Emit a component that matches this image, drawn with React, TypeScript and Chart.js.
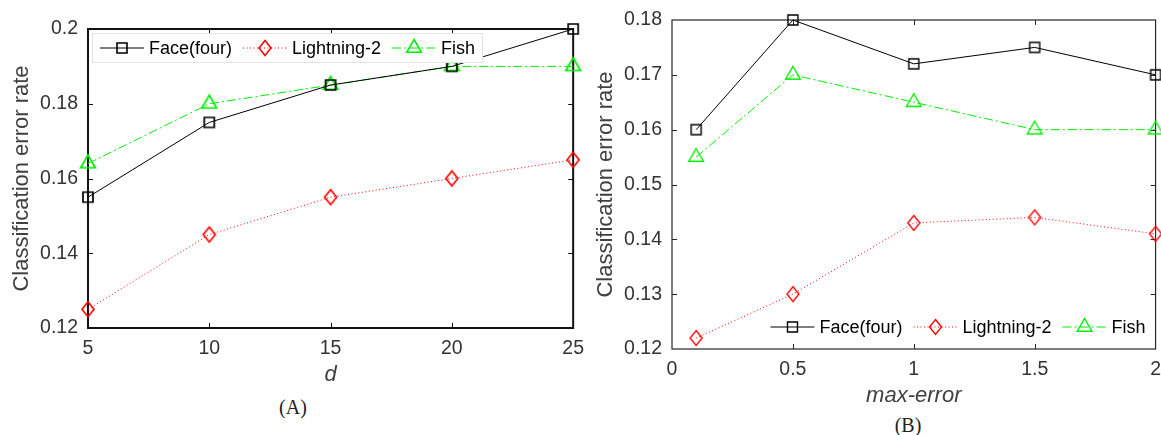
import React, { useEffect, useRef } from 'react';
import { Chart, registerables } from 'chart.js';

Chart.register(...registerables);

// ---------- data ----------
const seriesNames = ['Face(four)', 'Lightning-2', 'Fish'];

// Panel (A): x = d
const dValues = [5, 10, 15, 20, 25];
const faceA = [0.155, 0.175, 0.185, 0.19, 0.2];
const lightningA = [0.125, 0.145, 0.155, 0.16, 0.165];
const fishA = [0.164, 0.18, 0.185, 0.19, 0.19];
const xTicksA = [5, 10, 15, 20, 25];
const yTicksA = [0.12, 0.14, 0.16, 0.18, 0.2];

// Panel (B): x = max-error
const maxErrorValues = [0.1, 0.5, 1, 1.5, 2];
const faceB = [0.16, 0.18, 0.172, 0.175, 0.17];
const lightningB = [0.122, 0.13, 0.143, 0.144, 0.141];
const fishB = [0.155, 0.17, 0.165, 0.16, 0.16];
const xTicksB = [0, 0.5, 1, 1.5, 2];
const yTicksB = [0.12, 0.13, 0.14, 0.15, 0.16, 0.17, 0.18];

const yTitle = 'Classification error rate';

// ---------- styles ----------
const SANS = "'Liberation Sans', Arial, sans-serif";
const styles = [
  { kind: 'square', color: '#000000', dash: [] as number[] },
  { kind: 'diamond', color: '#ff0000', dash: [1, 2.5] },
  { kind: 'triangle', color: '#00ee00', dash: [9, 3, 2, 3] },
];

function pathMarker(ctx: CanvasRenderingContext2D, kind: string, x: number, y: number) {
  ctx.beginPath();
  if (kind === 'square') {
    ctx.rect(x - 5, y - 5, 10, 10);
  } else if (kind === 'diamond') {
    ctx.moveTo(x, y - 7.5);
    ctx.lineTo(x + 6, y);
    ctx.lineTo(x, y + 7.5);
    ctx.lineTo(x - 6, y);
    ctx.closePath();
  } else {
    const r = 8.5;
    ctx.moveTo(x, y - r);
    ctx.lineTo(x + r * 0.866, y + r / 2);
    ctx.lineTo(x - r * 0.866, y + r / 2);
    ctx.closePath();
  }
}

function makeMarker(kind: string, color: string, lw: number) {
  const c = document.createElement('canvas');
  c.width = 24;
  c.height = 24;
  const ctx = c.getContext('2d')!;
  ctx.strokeStyle = color;
  ctx.lineWidth = lw;
  pathMarker(ctx, kind, 12, 12);
  ctx.stroke();
  return c;
}

const frameTicksPlugin = {
  id: 'frameTicks',
  beforeDatasetsDraw(chart: any, _args: any, o: any) {
    const { ctx, chartArea: a } = chart;
    const xs = chart.scales.x;
    const ys = chart.scales.y;
    ctx.save();
    ctx.strokeStyle = o.color;
    ctx.lineWidth = o.width;
    ctx.strokeRect(a.left, a.top, a.right - a.left, a.bottom - a.top);
    ctx.lineWidth = o.tickWidth;
    const L = o.len;
    ctx.beginPath();
    xs.ticks.forEach((t: any) => {
      const px = Math.round(xs.getPixelForValue(t.value)) + 0.5;
      if (px <= a.left + 2 || px >= a.right - 2) return;
      ctx.moveTo(px, a.bottom);
      ctx.lineTo(px, a.bottom - L);
      ctx.moveTo(px, a.top);
      ctx.lineTo(px, a.top + L);
    });
    ys.ticks.forEach((t: any) => {
      const py = Math.round(ys.getPixelForValue(t.value)) + 0.5;
      if (py <= a.top + 2 || py >= a.bottom - 2) return;
      ctx.moveTo(a.left, py);
      ctx.lineTo(a.left + L, py);
      ctx.moveTo(a.right, py);
      ctx.lineTo(a.right - L, py);
    });
    ctx.stroke();
    ctx.restore();
  },
};

const insideLegendPlugin = {
  id: 'insideLegend',
  afterDatasetsDraw(chart: any, _args: any, o: any) {
    const { ctx, chartArea: a } = chart;
    ctx.save();
    ctx.font = `${o.fontSize}px ${SANS}`;
    const items = chart.data.datasets.map((ds: any) => ({ label: ds.label, w: ctx.measureText(ds.label).width }));
    const total =
      o.padL + o.padR +
      items.reduce((s: number, it: any) => s + o.sampleW + o.sampleGap + it.w, 0) +
      o.itemGap * (items.length - 1);
    const h = o.boxH;
    const left = o.anchor === 'tl' ? a.left + o.offX : a.right - o.offX - total;
    const top = o.anchor === 'tl' ? a.top + o.offY : a.bottom - o.offY - h;
    ctx.fillStyle = '#ffffff';
    ctx.fillRect(left, top, total, h);
    if (o.borderColor) {
      ctx.strokeStyle = o.borderColor;
      ctx.lineWidth = 1;
      ctx.strokeRect(Math.round(left) + 0.5, Math.round(top) + 0.5, Math.round(total) - 1, h - 1);
    }
    let x = left + o.padL;
    const cy = top + h / 2;
    items.forEach((it: any, i: number) => {
      const st = styles[i];
      ctx.strokeStyle = st.color;
      ctx.lineWidth = 1;
      ctx.setLineDash(st.dash);
      ctx.beginPath();
      ctx.moveTo(x, cy);
      ctx.lineTo(x + o.sampleW, cy);
      ctx.stroke();
      ctx.setLineDash([]);
      ctx.lineWidth = o.markerWidth;
      pathMarker(ctx, st.kind, x + o.sampleW / 2, cy);
      ctx.stroke();
      x += o.sampleW + o.sampleGap;
      ctx.fillStyle = '#000000';
      ctx.textBaseline = 'middle';
      ctx.textAlign = 'left';
      ctx.fillText(it.label, x, cy + 1);
      x += it.w + o.itemGap;
    });
    ctx.restore();
  },
};

type PanelProps = {
  xs: number[];
  series: number[][];
  xTicks: number[];
  yTicks: number[];
  xTitle: string;
  yW: number;
  xH: number;
  pad: { top: number; right: number; bottom: number; left: number };
  yTitlePad: number;
  frameWidth: number;
  frameColor: string;
  markerWidth: number;
  legend: any;
};

function fmt(v: number) {
  return String(parseFloat(v.toFixed(4)));
}

function Panel(p: PanelProps) {
  const ref = useRef<HTMLCanvasElement>(null);
  useEffect(() => {
    const cfg: any = {
      type: 'line',
      data: {
        datasets: p.series.map((vals, i) => ({
          label: seriesNames[i],
          data: vals.map((v, j) => ({ x: p.xs[j], y: v })),
          borderColor: styles[i].color,
          borderWidth: 1,
          borderDash: styles[i].dash,
          pointStyle: makeMarker(styles[i].kind, styles[i].color, p.markerWidth),
          pointRadius: 8,
          pointHoverRadius: 8,
          tension: 0,
          fill: false,
          clip: false,
        })),
      },
      options: {
        animation: false,
        responsive: true,
        maintainAspectRatio: false,
        events: [],
        layout: { padding: p.pad },
        plugins: {
          legend: { display: false },
          tooltip: { enabled: false },
          title: { display: false },
          frameTicks: { color: p.frameColor, width: p.frameWidth, tickWidth: 1, len: 5 },
          insideLegend: p.legend,
        },
        scales: {
          x: {
            type: 'linear',
            min: p.xTicks[0],
            max: p.xTicks[p.xTicks.length - 1],
            afterBuildTicks: (s: any) => {
              s.ticks = p.xTicks.map((v) => ({ value: v }));
            },
            afterFit: (s: any) => {
              s.height = p.xH;
            },
            grid: { display: false, drawTicks: false },
            border: { display: false },
            ticks: {
              padding: 9,
              color: '#333333',
              font: { family: SANS, size: 19.5 },
              maxRotation: 0,
              autoSkip: false,
              callback: (v: number) => fmt(v),
            },
            title: {
              display: true,
              text: p.xTitle,
              color: '#404040',
              font: { family: SANS, size: 22, style: 'italic' },
              padding: { top: 0, bottom: 0 },
            },
          },
          y: {
            type: 'linear',
            min: p.yTicks[0],
            max: p.yTicks[p.yTicks.length - 1],
            afterBuildTicks: (s: any) => {
              s.ticks = p.yTicks.map((v) => ({ value: v }));
            },
            afterFit: (s: any) => {
              s.width = p.yW;
            },
            grid: { display: false, drawTicks: false },
            border: { display: false },
            ticks: {
              padding: 10,
              color: '#333333',
              font: { family: SANS, size: 19.5 },
              autoSkip: false,
              callback: (v: number) => fmt(v),
            },
            title: {
              display: true,
              text: yTitle,
              color: '#404040',
              font: { family: SANS, size: 22 },
              padding: { top: p.yTitlePad, bottom: 0 },
            },
          },
        },
      },
      plugins: [frameTicksPlugin, insideLegendPlugin],
    };
    const chart = new Chart(ref.current!, cfg);
    return () => chart.destroy();
  }, []);
  return <canvas ref={ref} />;
}

const panelLabelStyle: React.CSSProperties = {
  position: 'absolute',
  fontFamily: "'Liberation Serif', 'DejaVu Serif', serif",
  fontSize: 20,
  lineHeight: '20px',
  color: '#222',
  transform: 'translateX(-50%)',
  whiteSpace: 'nowrap',
};

export default function App() {
  const legendBase = {
    fontSize: 18,
    sampleW: 44,
    sampleGap: 5,
    itemGap: 11,
    padL: 8,
    padR: 8,
    boxH: 30,
  };
  return (
    <div style={{ position: 'absolute', left: 0, top: 0, width: 1161, height: 435, background: '#fff', overflow: 'hidden' }}>
      <div style={{ position: 'absolute', left: 0, top: 0, width: 593, height: 388 }}>
        <Panel
          xs={dValues}
          series={[faceA, lightningA, fishA]}
          xTicks={xTicksA}
          yTicks={yTicksA}
          xTitle="d"
          yW={88}
          xH={60}
          pad={{ top: 29, right: 0, bottom: 0, left: 0 }}
          yTitlePad={9}
          frameWidth={2}
          frameColor="#111111"
          markerWidth={1.7}
          legend={{ ...legendBase, anchor: 'tl', offX: 4, offY: 4, borderColor: '#e3e3e3', markerWidth: 1.6 }}
        />
      </div>
      <div style={{ position: 'absolute', left: 590, top: -2, width: 580, height: 411 }}>
        <Panel
          xs={maxErrorValues}
          series={[faceB, lightningB, fishB]}
          xTicks={xTicksB}
          yTicks={yTicksB}
          xTitle="max-error"
          yW={82}
          xH={60}
          pad={{ top: 22, right: 0, bottom: 0, left: 0 }}
          yTitlePad={3}
          frameWidth={1.2}
          frameColor="#262626"
          markerWidth={1.4}
          legend={{ ...legendBase, anchor: 'br', offX: 2, offY: 7, borderColor: null, markerWidth: 1.4 }}
        />
      </div>
      <div style={{ ...panelLabelStyle, left: 293, top: 397 }}>(A)</div>
      <div style={{ ...panelLabelStyle, left: 908, top: 415 }}>(B)</div>
    </div>
  );
}
